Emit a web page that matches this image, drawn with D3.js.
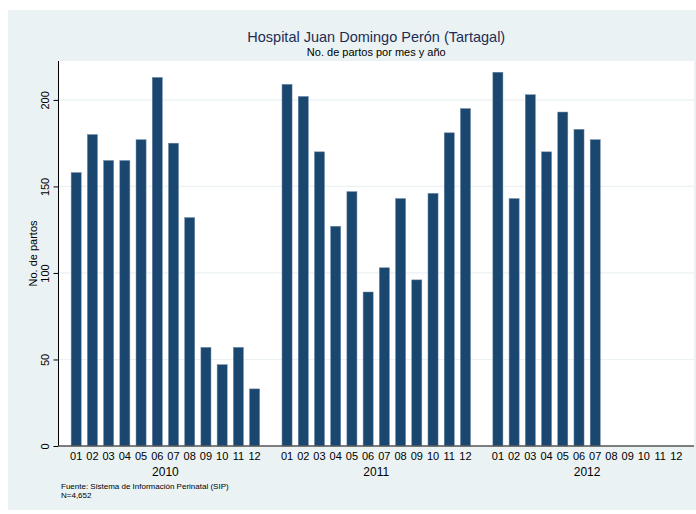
<!DOCTYPE html>
<html>
<head>
<meta charset="utf-8">
<script src="https://cdn.jsdelivr.net/npm/d3@7"></script>
<style>
  body { margin: 0; background: #fff; }
  text { font-family: "Liberation Sans", Arial, sans-serif; }
</style>
</head>
<body>
<svg id="chart"></svg>
<script>
// datos: partos por mes y año
const years = ["2010", "2011", "2012"];
const months = ["01", "02", "03", "04", "05", "06", "07", "08", "09", "10", "11", "12"];
const partos2010 = [158, 180, 165, 165, 177, 213, 175, 132, 57, 47, 57, 33];
const partos2011 = [209, 202, 170, 127, 147, 89, 103, 143, 96, 146, 181, 195];
const partos2012 = [216, 143, 203, 170, 193, 183, 177, null, null, null, null, null];
const yTicks = [0, 50, 100, 150, 200];

const width = 696, height = 514;
const svg = d3.select("#chart").attr("width", width).attr("height", height);

// fondo exterior
svg.append("rect").attr("x", 8).attr("y", 10).attr("width", 688).attr("height", 500)
  .attr("fill", "#eaf2f3");

const plot = { left: 58.5, right: 694, top: 61, bottom: 446 };

svg.append("rect")
  .attr("x", plot.left).attr("y", plot.top)
  .attr("width", plot.right - plot.left).attr("height", plot.bottom - plot.top)
  .attr("fill", "#fff");

// filas: cada año con sus meses
const series = [partos2010, partos2011, partos2012];
const rows = [];
years.forEach((yr, i) => {
  months.forEach((m, j) => rows.push({ key: yr + "-" + m, year: yr, month: m, value: series[i][j] }));
});

// dominio con huecos entre años
const slots = [];
years.forEach((yr, i) => {
  if (i > 0) slots.push("gap-" + yr);
  months.forEach(m => slots.push(yr + "-" + m));
});

const x = d3.scaleBand().domain(slots).range([plot.left, plot.right])
  .paddingInner(0.38).paddingOuter(0.78);

const y = d3.scaleLinear().domain([0, 222.5]).range([plot.bottom, plot.top]);

// grilla
svg.append("g").selectAll("line")
  .data(yTicks.filter(d => d > 0))
  .enter().append("line")
  .attr("x1", plot.left).attr("x2", plot.right)
  .attr("y1", d => y(d)).attr("y2", d => y(d))
  .attr("stroke", "#eaf2f3").attr("stroke-width", 1.2);

// barras
svg.append("g").selectAll("rect")
  .data(rows.filter(d => d.value != null))
  .enter().append("rect")
  .attr("x", d => x(d.key))
  .attr("y", d => y(d.value))
  .attr("width", x.bandwidth())
  .attr("height", d => y(0) - y(d.value))
  .attr("fill", "#1a476f")
  .attr("stroke", "#6c88a3")
  .attr("stroke-width", 0.5);

// eje y
const yAxis = svg.append("g").attr("transform", `translate(${plot.left},0)`)
  .call(d3.axisLeft(y).tickValues(yTicks).tickSize(5).tickPadding(3));
yAxis.select(".domain").attr("d", `M0,${plot.top}V${plot.bottom}`).attr("stroke", "#000");
yAxis.selectAll(".tick line").attr("stroke", "#000");
yAxis.selectAll(".tick text")
  .attr("x", null).attr("dy", null)
  .attr("transform", "translate(-10,0) rotate(-90)")
  .attr("text-anchor", "middle")
  .attr("font-size", 11)
  .attr("fill", "#000");

// eje x
svg.append("line")
  .attr("x1", plot.left).attr("x2", plot.right)
  .attr("y1", plot.bottom).attr("y2", plot.bottom)
  .attr("stroke", "#555").attr("stroke-width", 1.5);

svg.append("g").selectAll("text")
  .data(rows)
  .enter().append("text")
  .attr("x", d => x(d.key) + x.bandwidth() / 2)
  .attr("y", 460)
  .attr("text-anchor", "middle")
  .attr("font-size", 11)
  .text(d => d.month);

svg.append("g").selectAll("text")
  .data(years)
  .enter().append("text")
  .attr("x", d => (x(d + "-01") + x(d + "-12") + x.bandwidth()) / 2)
  .attr("y", 476)
  .attr("text-anchor", "middle")
  .attr("font-size", 12)
  .text(d => d);

// titulo y ejes
const cx = (plot.left + plot.right) / 2;
svg.append("text").attr("x", cx).attr("y", 42).attr("text-anchor", "middle")
  .attr("font-size", 14.5).attr("fill", "#1e2d53")
  .text("Hospital Juan Domingo Perón (Tartagal)");
svg.append("text").attr("x", cx).attr("y", 56).attr("text-anchor", "middle")
  .attr("font-size", 11).attr("fill", "#000")
  .text("No. de partos por mes y año");

svg.append("text")
  .attr("transform", `translate(37,${(plot.top + plot.bottom) / 2}) rotate(-90)`)
  .attr("text-anchor", "middle").attr("font-size", 11)
  .text("No. de partos");

svg.append("text").attr("x", 61).attr("y", 489).attr("font-size", 8)
  .text("Fuente: Sistema de Información Perinatal (SIP)");
svg.append("text").attr("x", 61).attr("y", 498).attr("font-size", 8)
  .text("N=4,652");
</script>
</body>
</html>
